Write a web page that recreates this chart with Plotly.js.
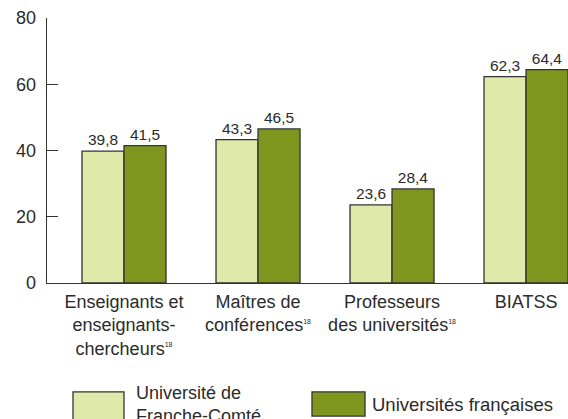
<!DOCTYPE html>
<html>
<head>
<meta charset="utf-8">
<script src="https://cdn.plot.ly/plotly-3.0.1.min.js"></script>
<style>
  html, body { margin: 0; padding: 0; background: #fff; }
  #plotArea { width: 568px; height: 419px; }
</style>
</head>
<body>
<div id="plotArea"></div>
<script>
// categories and values
var categories = ["ens", "mcf", "pu", "biatss"];
var note = "<sup><span style='font-size:7px'>18</span></sup>";
var tickLabels = [
    "Enseignants et<br>enseignants-<br>chercheurs" + note,
    "Maîtres de<br>conférences" + note,
    "Professeurs<br>des universités" + note,
    "BIATSS"
];
var ufcValues = [39.8, 43.3, 23.6, 62.3];
var frValues = [41.5, 46.5, 28.4, 64.4];
var seriesNames = ["Université de<br>Franche-Comté", "Universités françaises"];

var textColor = "#2b2b2b";
var lineColor = "#333333";
var lightGreen = "#dfe9a9";
var darkGreen = "#7f961e";

var trace1 = {
    x: categories,
    y: ufcValues,
    type: "bar",
    name: seriesNames[0],
    marker: {color: lightGreen, line: {color: lineColor, width: 1.3}},
    texttemplate: "%{y:.1f}",
    textposition: "outside",
    textfont: {size: 15.5, color: textColor},
    cliponaxis: false,
    hoverinfo: "none"
};

var trace2 = {
    x: categories,
    y: frValues,
    type: "bar",
    name: seriesNames[1],
    marker: {color: darkGreen, line: {color: lineColor, width: 1.3}},
    texttemplate: "%{y:.1f}",
    textposition: "outside",
    textfont: {size: 15.5, color: textColor},
    cliponaxis: false,
    hoverinfo: "none"
};

var layout = {
    width: 568,
    height: 419,
    margin: {l: 47, r: 0, t: 18, b: 136},
    paper_bgcolor: "#ffffff",
    plot_bgcolor: "#ffffff",
    separators: ", ",
    font: {family: "Liberation Sans, Arial, sans-serif", size: 18, color: textColor},
    barmode: "group",
    bargap: 0.373,
    bargroupgap: 0,
    showlegend: false,
    xaxis: {
        type: "category",
        range: [-0.5746, 3.313],
        tickvals: categories,
        ticktext: tickLabels,
        showline: true,
        linecolor: lineColor,
        linewidth: 1.3,
        ticks: "",
        showgrid: false,
        zeroline: false,
        tickfont: {size: 18, color: textColor},
        ticklabelstandoff: 2
    },
    yaxis: {
        range: [0, 80],
        tickvals: [0, 20, 40, 60, 80],
        showline: true,
        linecolor: lineColor,
        linewidth: 1.3,
        ticks: "inside",
        ticklen: 11,
        tickwidth: 1.3,
        tickcolor: lineColor,
        showgrid: false,
        zeroline: false,
        tickfont: {size: 18, color: textColor},
        ticklabelstandoff: 6
    },
    shapes: [
        {type: "rect", xref: "paper", yref: "paper", x0: 0.0499, x1: 0.1478, y0: -0.52, y1: -0.411,
         fillcolor: lightGreen, line: {color: lineColor, width: 1.3}},
        {type: "rect", xref: "paper", yref: "paper", x0: 0.5086, x1: 0.6104, y0: -0.502, y1: -0.411,
         fillcolor: darkGreen, line: {color: lineColor, width: 1.3}}
    ],
    annotations: [
        {xref: "paper", yref: "paper", x: 0.167, y: -0.458, xanchor: "left", yanchor: "middle",
         text: seriesNames[0], showarrow: false, align: "left", font: {size: 18, color: textColor}},
        {xref: "paper", yref: "paper", x: 0.62, y: -0.457, xanchor: "left", yanchor: "middle",
         text: seriesNames[1], showarrow: false, align: "left", font: {size: 18.5, color: textColor}}
    ]
};

Plotly.newPlot("plotArea", [trace1, trace2], layout, {staticPlot: true});
</script>
</body>
</html>
